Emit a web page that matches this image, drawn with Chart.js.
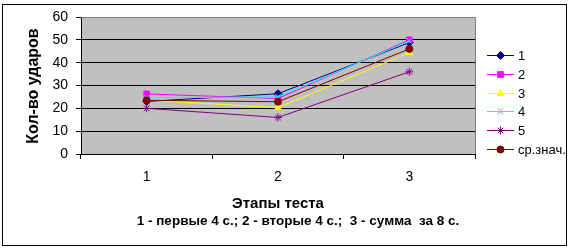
<!DOCTYPE html>
<html>
<head>
<meta charset="utf-8">
<script src="https://cdn.jsdelivr.net/npm/chart.js@4"></script>
<style>
  body { margin: 0; background: #fff; }
  canvas { display: block; }
</style>
</head>
<body>
<canvas id="chart" width="570" height="250"></canvas>
<script>
// data
const stages = ['1', '2', '3'];
const series1 = [23, 26.4, 48.8];
const series2 = [26.3, 24.3, 50];
const series3 = [23.6, 20.3, 44.4];
const series4 = [24.6, 25, 49.5];
const series5 = [20, 16, 36];
const seriesAvg = [23.5, 22.9, 46];
const seriesNames = ['1', '2', '3', '4', '5', 'ср.знач.'];

const yTitle = 'Кол-во ударов';
const xTitle = 'Этапы теста';
const xSubtitle = '1 - первые 4 с.; 2 - вторые 4 с.;  3 - сумма  за 8 с.';

const FONT = '"Liberation Sans", Arial, sans-serif';

// later series are drawn on top, like in the original
function makeSet(idx, data, color, style, radius) {
    return {
        label: seriesNames[idx],
        data: data,
        order: seriesNames.length - idx,
        borderColor: color,
        backgroundColor: color,
        borderWidth: 1,
        pointStyle: style,
        pointRadius: radius,
        pointBorderWidth: 1,
        pointHoverRadius: radius,
        tension: 0
    };
}

// outer frame, plot border, titles and legend
const extras = {
    id: 'extras',
    beforeDraw(chart) {
        const ctx = chart.ctx;
        const a = chart.chartArea;
        ctx.save();
        ctx.fillStyle = '#ffffff';
        ctx.fillRect(0, 0, chart.width, chart.height);
        ctx.fillStyle = '#c0c0c0';
        ctx.fillRect(a.left, a.top, a.right - a.left, a.bottom - a.top);
        ctx.restore();
    },
    afterDraw(chart) {
        const ctx = chart.ctx;
        const a = chart.chartArea;
        ctx.save();
        // plot area border top/right
        ctx.strokeStyle = '#808080';
        ctx.lineWidth = 1;
        ctx.beginPath();
        ctx.moveTo(a.left, a.top + 0.5);
        ctx.lineTo(a.right + 0.5, a.top + 0.5);
        ctx.lineTo(a.right + 0.5, a.bottom);
        ctx.stroke();

        // outer frame
        ctx.strokeStyle = '#000';
        ctx.strokeRect(2.5, 4.5, 564, 241);

        // titles
        ctx.fillStyle = '#000';
        ctx.textAlign = 'center';
        ctx.textBaseline = 'middle';
        ctx.font = 'bold 15px ' + FONT;
        ctx.fillText(xTitle, 278, 204);
        ctx.font = 'bold 13.5px ' + FONT;
        ctx.fillText(xSubtitle, 298, 221);

        ctx.save();
        ctx.translate(34, 86);
        ctx.rotate(-Math.PI / 2);
        ctx.font = 'bold 16px ' + FONT;
        ctx.fillText(yTitle, 0, 0);
        ctx.restore();

        // legend: short line with the series marker in the middle
        ctx.font = '13px ' + FONT;
        ctx.textAlign = 'left';
        chart.data.datasets.forEach((ds, i) => {
            const y = Math.round(55 + i * 18.8) + 0.5;
            ctx.strokeStyle = ds.borderColor;
            ctx.fillStyle = ds.backgroundColor;
            ctx.lineWidth = 1;
            ctx.beginPath();
            ctx.moveTo(487, y);
            ctx.lineTo(514, y);
            ctx.stroke();
            Chart.helpers.drawPoint(ctx, {
                pointStyle: ds.pointStyle,
                radius: ds.pointRadius,
                borderWidth: 1
            }, 500.5, y);
            ctx.fillStyle = '#000';
            ctx.fillText(ds.label, 518, y + 0.5);
        });
        ctx.restore();
    }
};

new Chart(document.getElementById('chart').getContext('2d'), {
    type: 'line',
    data: {
        labels: stages,
        datasets: [
            makeSet(0, series1, '#000080', 'rectRot', 4),
            makeSet(1, series2, '#ff00ff', 'rect', 4),
            makeSet(2, series3, '#ffff00', 'triangle', 4),
            makeSet(3, series4, '#00ffff', 'crossRot', 4),
            makeSet(4, series5, '#800080', 'star', 4),
            makeSet(5, seriesAvg, '#800000', 'circle', 3.5)
        ]
    },
    options: {
        responsive: false,
        animation: false,
        layout: { padding: { left: 2, top: 17, right: 95, bottom: 0 } },
        plugins: {
            legend: { display: false },
            tooltip: { enabled: false }
        },
        scales: {
            x: {
                offset: true,
                grid: {
                    offset: true,
                    drawOnChartArea: false,
                    drawTicks: true,
                    tickLength: 5,
                    color: '#000'
                },
                border: { color: '#000', width: 1 },
                ticks: {
                    color: '#000',
                    padding: 10,
                    font: { family: FONT, size: 14 }
                },
                afterFit(scale) { scale.height = 96; }
            },
            y: {
                min: 0,
                max: 60,
                ticks: {
                    stepSize: 10,
                    color: '#000',
                    padding: 8,
                    font: { family: FONT, size: 14 }
                },
                grid: {
                    color: (c) => (c.tick && c.tick.value === 60 ? '#808080' : '#000'),
                    tickLength: 5,
                    tickColor: '#000'
                },
                border: { color: '#000', width: 1 },
                afterFit(scale) { scale.width = 79; }
            }
        }
    },
    plugins: [extras]
});
</script>
</body>
</html>
